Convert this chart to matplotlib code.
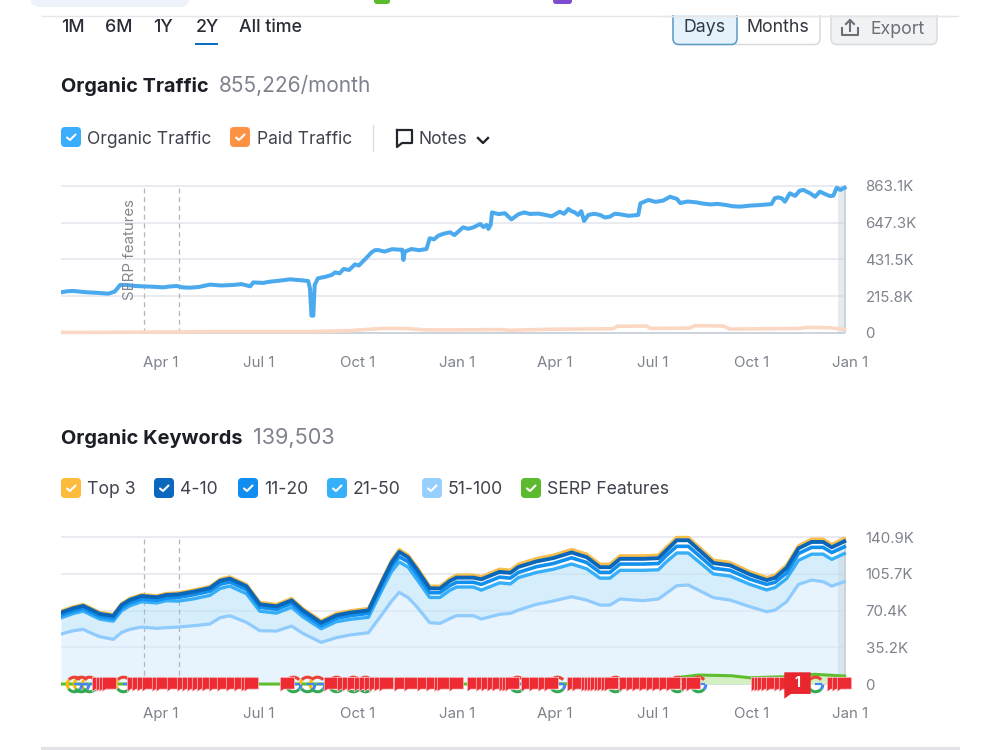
# Organic traffic and keyword position charts for the domain overview page.

import matplotlib
matplotlib.use("Agg")
import matplotlib.pyplot as plt
from matplotlib.patches import FancyBboxPatch, Rectangle
from matplotlib.path import Path

plt.rcParams["font.family"] = ["Inter", "DejaVu Sans"]

# ---------------------------------------------------------------------------
# Data (days counted from the first Jan 1 of the two year window)
# ---------------------------------------------------------------------------

X_TICK_DAYS = [90, 181, 273, 365, 456, 547, 639, 731]
X_TICK_LABELS = ["Apr 1", "Jul 1", "Oct 1", "Jan 1", "Apr 1", "Jul 1", "Oct 1", "Jan 1"]
NOTE_DAYS = [74.2, 106.5]

TRAFFIC_TICKS = [0, 215.8, 431.5, 647.3, 863.1]
TRAFFIC_TICK_LABELS = ["0", "215.8K", "431.5K", "647.3K", "863.1K"]
KEYWORD_TICKS = [0, 35.2, 70.4, 105.7, 140.9]
KEYWORD_TICK_LABELS = ["0", "35.2K", "70.4K", "105.7K", "140.9K"]

organic_days = [-3, 3, 8.4, 14, 20.8, 30, 41, 47, 52, 58, 66, 73.5, 84, 92, 98, 104.5, 110, 117,
                125, 135.5, 146, 157, 165, 173, 176, 185, 191, 200, 210, 220, 227, 228.6, 230,
                231.7, 233, 236, 243, 249, 252, 256, 260, 265, 270.5, 274, 277, 280, 286, 289,
                292, 298, 305, 312, 314.5, 315.5, 317, 323, 330, 337, 340, 344, 348, 353, 359,
                363, 366.6, 371, 376, 380.6, 387, 390, 393, 394.6, 396.7, 398, 404, 410, 416,
                422.5, 428, 433, 441, 447, 453.5, 461, 465, 469, 472, 475, 478, 481, 483.6,
                487.6, 493, 498.4, 503, 507.7, 512, 517, 525, 534, 536, 543.4, 550, 557, 563.6,
                570, 573, 580, 588, 594, 601, 608, 616, 622, 629, 638, 647, 658, 661, 664, 667.5,
                670.5, 675, 680, 684, 687.6, 694, 698.5, 703, 708, 712.4, 715.5, 718.6, 722, 726]
organic_traffic = [239, 245, 247, 243, 239, 236, 231, 243, 282, 282, 276, 274, 271, 268, 273, 276, 268, 266,
                   270, 284, 279, 282, 287, 274, 297, 294, 301, 307, 315, 310, 305, 262, 102,
                   102, 282, 321, 330, 341, 356, 350, 376, 370, 403, 396, 415, 434, 474, 486,
                   487, 478, 492, 489, 489, 429, 478, 493, 486, 493, 556, 550, 571, 583, 591,
                   575, 595, 620, 612, 620, 640, 622, 634, 611, 634, 708, 698, 703, 667,
                   697, 708, 699, 701, 694, 685, 712, 700, 728, 715, 708, 693, 715, 658,
                   693, 700, 693, 678, 683, 700, 697, 688, 693, 761, 781, 770, 777, 800,
                   787, 763, 772, 767, 760, 755, 758, 751, 744, 742, 748, 751, 757, 791, 796, 791,
                   771, 820, 805, 835, 840, 820, 800, 830, 815, 804, 806, 853, 840, 853]

paid_days = [-3, 48.7, 141.7, 228.6, 265.8, 296.8, 315.4, 337, 359, 405.4, 414.7, 452, 511,
             514, 542, 545, 582, 587, 613, 619.4, 684.5, 691, 712, 726]
paid_traffic = [3, 4, 8, 8, 14, 27, 27, 18, 18, 20, 16, 22, 25,
                39, 41, 27, 29, 43, 41, 23, 27, 33, 31, 21]

keyword_days = [-3, 8.4, 17.7, 25.5, 33.2, 45.6, 53.4, 61, 72, 86, 95, 106, 120, 135.5, 145,
                154, 169.6, 182, 197.5, 211.5, 222, 239, 253, 265.8, 283, 297, 304.6, 311.7, 320,
                328, 340, 349.5, 359, 365, 380.6, 388, 405, 415, 422.5, 439.5, 455, 472, 486,
                498.4, 507.7, 517, 538.7, 552.7, 560, 569.8, 580.6, 604, 619.4, 638, 653.5,
                661.3, 672, 683, 695.3, 706, 714, 725.7]
top_3 = [70, 74.1, 76.4, 72.5, 68.7, 66.8, 77.3, 82.1, 85.9, 84.7, 86.9, 87.5, 90.1, 93.6, 100.6,
         102.9, 95.5, 78.3, 76.4, 82.1, 72.5, 60.7, 67.7, 70.3, 72.5, 102.9, 118.9, 129.1, 123.6,
         112.5, 93.9, 93.9, 101.3, 104.5, 104.5, 102.9, 110.2, 109.3, 115, 120.5, 123.6, 129.1, 124.6,
         115, 115, 123, 123, 123.6, 131, 140.6, 140.6, 118.9, 116.6, 107.7, 102.2,
         104.5, 114.1, 132.6, 139, 139, 133.9, 139.6]
pos_4_10 = [68.5, 72.6, 74.9, 71, 67.2, 65.3, 75.8, 80.6, 84.4, 83.2, 85.4, 85.9, 88.5, 92, 99,
            101, 93.7, 76.4, 74.5, 80.2, 70.6, 58.8, 65.8, 68.4, 70.6, 100.8, 116.6, 126.7, 121.3,
            110, 91.7, 91.6, 99, 102, 102, 100.4, 107.5, 106.6, 112.2, 117.6, 120.7, 126.1, 121.6,
            112, 112, 120, 120, 120.6, 128, 137.8, 137.8, 116, 113.8, 105, 99.6,
            101.8, 111.4, 130, 136.2, 136.2, 131, 136.8]
pos_11_20 = [66, 70, 72.4, 68.5, 64.7, 62.8, 73, 77.8, 81.5, 80.3, 82.4, 83, 85.5, 89, 95.6,
             97.8, 90.5, 73.5, 71.6, 77.3, 67.7, 56, 63, 65.5, 67.7, 97.5, 112.9, 122, 117,
             105.5, 87.5, 87.5, 94.5, 97.5, 97.5, 95.5, 102.5, 101.5, 107, 112.5, 115.5, 121, 116.5,
             107, 107, 115, 115, 115.5, 123, 132, 132, 111, 109, 100.5, 95.5,
             97.5, 106.5, 125, 131, 131, 126, 131.5]
pos_21_50 = [63.5, 67.6, 69.9, 66, 62.2, 60.3, 70.3, 75, 78.9, 77.7, 79.9, 79.5, 81.6, 85, 91.6,
             93.9, 86.5, 69.8, 68, 73.6, 64.5, 53, 59.7, 62, 64, 93, 108, 117, 112,
             100.5, 83, 83, 90, 93, 93, 90, 97, 96, 102, 107, 110, 115, 110.5,
             101.5, 101.5, 109, 109, 109.5, 117, 125.6, 125.6, 105.5, 103.5, 95.5, 90.2,
             92.5, 101, 118.5, 124.5, 124.5, 119.5, 125]
pos_51_100 = [47.9, 51.1, 52.4, 48.6, 45.4, 42.8, 49.5, 52.4, 54.6, 53.4, 54, 54.6, 55.9, 57.5, 63.6,
              65.5, 59.1, 51.1, 50.8, 55.6, 48.6, 39.9, 44.4, 47, 49.2, 68.7, 79.6, 87.9, 82.8,
              74.1, 58.8, 58.1, 62.9, 65.5, 65.5, 62.3, 66.8, 67.7, 70.9, 76.4, 79.6, 83.7, 80.5,
              75.7, 75.7, 81.5, 79.9, 81.5, 86.9, 94.3, 94.9, 82.8, 80.5, 74.1, 69.3,
              70.9, 78.9, 95.5, 99.7, 98.1, 93.9, 98.1]

serp_days = [-3, 200, 400, 555, 569, 590, 620, 638, 670, 698, 726]
serp_features = [0, 0, 0, 0.5, 6, 8.6, 8, 6, 7, 9.3, 7.7]

update_days = [32.6, 35.7, 38.8, 41.9, 65.2, 69.8, 74.5, 79.1, 88.4, 91.5, 102.4, 111.7, 116.3,
               121, 125.6, 130.3, 134.9, 141.1, 148.9, 156.7, 164.4, 170.6, 173.7, 206.9,
               248, 260.5, 265, 269.8, 276, 280.7, 285.3, 290, 294.6, 299.3, 313.2, 322.5,
               335, 342.7, 350.5, 353.6, 364.5, 381.6, 389.3, 394, 400, 404.8, 411, 414, 417,
               431, 439, 447, 453, 474.6, 479, 487, 490, 493, 496, 499.4, 502.5, 505.6, 508.7,
               522.7, 528.9, 535, 541.3, 547.5, 553.7, 559.9, 566, 580, 584.7, 645, 648, 651,
               654.4, 659, 667, 671.5, 716.5, 721, 725.8]
google_days = [9, 16, 23.3, 55, 213, 226, 235, 252.8, 269, 280, 421, 458, 512.4, 569.8, 590, 698.5]
flagged_day = 682
flagged_count = "1"

traffic_legend = [("Organic Traffic", "#3aaefc", 61, 87), ("Paid Traffic", "#ff9143", 230, 257)]
keyword_legend = [("Top 3", "#fdbb3c", 61, 87), ("4-10", "#0b68bf", 154, 180),
                  ("11-20", "#118df0", 238, 264), ("21-50", "#35b0fb", 327, 353),
                  ("51-100", "#97d0ff", 422, 448), ("SERP Features", "#5cba2e", 521, 547)]
range_tabs = [("1M", 61), ("6M", 105), ("1Y", 153), ("2Y", 196), ("All time", 239)]

# ---------------------------------------------------------------------------
# Colours and marker shapes
# ---------------------------------------------------------------------------

INK = "#1c1e26"
LABEL = "#40434e"
MUTED = "#7f828d"
GRID = "#e4e6ec"
BASELINE = "#c9d0da"

FLAG = Path([(-0.5, 0.5), (0.5, 0.5), (0.5, -0.32), (-0.25, -0.32), (-0.5, -0.5), (-0.5, 0.5)],
            closed=True)
BAR = Path([(0, 0), (1, 0)])


def chart_axes(fig, left, top, right, bottom):
    ax = fig.add_axes([left / 1000, 1 - bottom / 750, (right - left) / 1000, (bottom - top) / 750])
    ax.patch.set_alpha(0)
    for spine in ax.spines.values():
        spine.set_visible(False)
    ax.set_xlim(-3, 740.3)
    ax.tick_params(length=0, labelcolor=MUTED, labelsize=10.8)
    ax.yaxis.tick_right()
    ax.set_xticks(X_TICK_DAYS, X_TICK_LABELS)
    return ax


def dress_chart(ax, ticks, labels, x_pad):
    ax.set_yticks(ticks, labels)
    ax.tick_params(axis="y", pad=4)
    ax.tick_params(axis="x", pad=x_pad)
    ax.hlines(ticks[1:], -3, 726, color=GRID, lw=1.1, zorder=1)
    ax.hlines(0, -3, 726, color=BASELINE, lw=1.3, zorder=1)
    ax.vlines(NOTE_DAYS, 0, ticks[-1], color="#b4b6bc", lw=0.9, ls=(0, (4, 3)), zorder=1.5)
    ax.fill_betweenx([0, ticks[-1]], 720, 726, color="#c9d4dc", alpha=0.45, lw=0, zorder=1.4)


def google_marks(ax, days, size=10.5):
    y = [0] * len(days)
    arcs = [(40, 140, "#ea4335"), (140, 215, "#fbbc05"), (215, 320, "#34a853"), (320, 360, "#4285f4")]
    for start, stop, colour in arcs:
        ax.plot(days, y, ls="none", marker=Path.arc(start, stop), ms=size, mfc="none",
                mec=colour, mew=2.2, zorder=5, clip_on=False)
    ax.plot(days, y, ls="none", marker=BAR, ms=size, mfc="none", mec="#4285f4", mew=1.6,
            zorder=5, clip_on=False)


def checkbox(ui, x, y, colour):
    ui.add_patch(FancyBboxPatch((x + 3, y + 3), 14, 14, boxstyle="round,pad=3,rounding_size=4",
                                fc=colour, ec="none"))
    ui.plot([x + 6, x + 9, x + 14.5], [y + 10.5, y + 13, y + 7.5], color="white", lw=1.5,
            solid_capstyle="round")


# ---------------------------------------------------------------------------
# Figure
# ---------------------------------------------------------------------------

fig = plt.figure(figsize=(10, 7.5), dpi=100, facecolor="white")

# Traffic chart
ax_traffic = chart_axes(fig, 61, 178, 860, 345)
ax_traffic.set_ylim(-70.5, 910)
dress_chart(ax_traffic, TRAFFIC_TICKS, TRAFFIC_TICK_LABELS, 8)
ax_traffic.plot(paid_days, paid_traffic, color="#fbd8c4", lw=2.6, zorder=3)
ax_traffic.plot(organic_days, organic_traffic, color="#4ba9ee", lw=2.9, zorder=4,
                solid_joinstyle="round")
ax_traffic.vlines(726, 0, 863.1, color="#c3ced7", lw=1.2, zorder=2)

# Keywords chart
ax_keywords = chart_axes(fig, 61, 529, 860, 700)
ax_keywords.set_ylim(-15.3, 148.6)
dress_chart(ax_keywords, KEYWORD_TICKS, KEYWORD_TICK_LABELS, 5)
ax_keywords.fill_between(keyword_days, 0, pos_51_100, color="#d6ecfc", alpha=0.58, lw=0, zorder=1.2)
ax_keywords.fill_between(keyword_days, pos_51_100, pos_21_50, color="#b9e2fa", alpha=0.58, lw=0, zorder=1.2)
ax_keywords.fill_between(serp_days, 0, serp_features, color="#d5efc4", lw=0, zorder=1.3)
ax_keywords.plot(keyword_days, pos_51_100, color="#90cbfd", lw=2.3, zorder=3)
ax_keywords.plot(keyword_days, top_3, color="#f8bd4a", lw=2.2, zorder=3.1)
ax_keywords.plot(keyword_days, pos_21_50, color="#37aef8", lw=2.4, zorder=3.2)
ax_keywords.plot(keyword_days, pos_11_20, color="#1290ee", lw=2.6, zorder=3.3)
ax_keywords.plot(keyword_days, pos_4_10, color="#0a66b9", lw=2.8, zorder=3.4)
ax_keywords.plot(serp_days, serp_features, color="#5fbd30", lw=2.2, zorder=3.5)
ax_keywords.vlines(726, 0, 140.9, color="#c3ced7", lw=1.2, zorder=2)

google_marks(ax_keywords, google_days)
ax_keywords.plot(update_days, [0] * len(update_days), ls="none", marker=FLAG, ms=10.4, mfc="#ee2a33",
                 mec="#fbdcdd", mew=0.45, zorder=6, clip_on=False)
ax_keywords.plot([flagged_day], [-1], ls="none", marker=FLAG, ms=19, mfc="#e8262e", mec="none",
                 zorder=7, clip_on=False)
ax_keywords.annotate(flagged_count, (flagged_day, -1), xytext=(0, 1.5), textcoords="offset points",
                     color="white", fontsize=10, fontweight="bold", ha="center", va="center",
                     zorder=8, annotation_clip=False)

# Page furniture, positioned in pixels
ui = fig.add_axes([0, 0, 1, 1], zorder=10)
ui.set_xlim(0, 1000)
ui.set_ylim(750, 0)
ui.axis("off")

ui.add_patch(FancyBboxPatch((30, -20), 160, 27, boxstyle="round,pad=0,rounding_size=10",
                            fc="#eef2fb", ec="none"))
ui.add_patch(FancyBboxPatch((374, -8), 16, 12, boxstyle="round,pad=0,rounding_size=3",
                            fc="#5cba2e", ec="none"))
ui.add_patch(FancyBboxPatch((553, -8), 19, 12, boxstyle="round,pad=0,rounding_size=3",
                            fc="#7d4ccf", ec="none"))
ui.plot([42, 958], [15.5, 15.5], color="#e6e6e8", lw=1)
ui.plot([42, 958], [747.5, 747.5], color="#e2e3e6", lw=2.2)

for label, x in range_tabs:
    ui.text(x, 28, label, fontsize=12.8, fontweight="medium", color="#2a2c36", va="center")
ui.add_patch(Rectangle((195, 43), 23, 2.2, fc="#0b6fc4", ec="none"))

# Buttons hang from the divider, so their top edges stay hidden
ui.add_patch(FancyBboxPatch((673, 5), 147, 39.5, boxstyle="round,pad=0,rounding_size=6",
                            fc="white", ec="#d8dade", lw=1.1))
ui.add_patch(FancyBboxPatch((673, 5), 64, 39.5, boxstyle="round,pad=0,rounding_size=6",
                            fc="#e5f2fb", ec="#5a9cc6", lw=1.1))
ui.add_patch(FancyBboxPatch((831, 5), 106, 39.5, boxstyle="round,pad=0,rounding_size=6",
                            fc="#f1f2f4", ec="#d8dade", lw=1.1))
ui.add_patch(Rectangle((660, 0), 290, 15, fc="white", ec="none", zorder=2.5))
ui.plot([660, 950], [15.5, 15.5], color="#e6e6e8", lw=1, zorder=2.6)
ui.text(705, 28, "Days", fontsize=12.8, color="#2f3a48", ha="center", va="center")
ui.text(778, 28, "Months", fontsize=12.8, color="#33363f", ha="center", va="center")
ui.text(871, 29, "Export", fontsize=12.8, color="#6c6e79", va="center")
ui.plot([842, 842, 858, 858], [28, 35, 35, 28], color="#6c6e79", lw=1.5)
ui.plot([850, 850], [31, 20], color="#6c6e79", lw=1.5)
ui.plot([846, 850, 854], [24, 20, 24], color="#6c6e79", lw=1.5)

ui.text(61, 86, "Organic Traffic", fontsize=14.3, fontweight="bold", color=INK, va="center")
ui.text(219, 86, "855,226/month", fontsize=15, color=MUTED, va="center")
ui.text(61, 438, "Organic Keywords", fontsize=14.4, fontweight="bold", color=INK, va="center")
ui.text(253, 438, "139,503", fontsize=15.6, color=MUTED, va="center")

for label, colour, box_x, text_x in traffic_legend:
    checkbox(ui, box_x, 127, colour)
    ui.text(text_x, 139, label, fontsize=12.6, color=LABEL, va="center")
for label, colour, box_x, text_x in keyword_legend:
    checkbox(ui, box_x, 478, colour)
    ui.text(text_x, 490, label, fontsize=12.7, color=LABEL, va="center")

ui.plot([373, 373], [125, 151], color="#dcdde1", lw=1)
ui.plot([397, 412, 412, 402, 397, 397], [130, 130, 143, 143, 147, 130], color="#23252d", lw=1.6,
        solid_joinstyle="round")
ui.text(419, 139, "Notes", fontsize=12.6, color=LABEL, va="center")
ui.plot([478, 483, 488], [138, 143, 138], color="#23252d", lw=1.7)

ui.text(129.5, 250, "SERP features", fontsize=10.8, color="#85878f", rotation=90,
        ha="center", va="center")

plt.savefig("out.png", dpi=100)
